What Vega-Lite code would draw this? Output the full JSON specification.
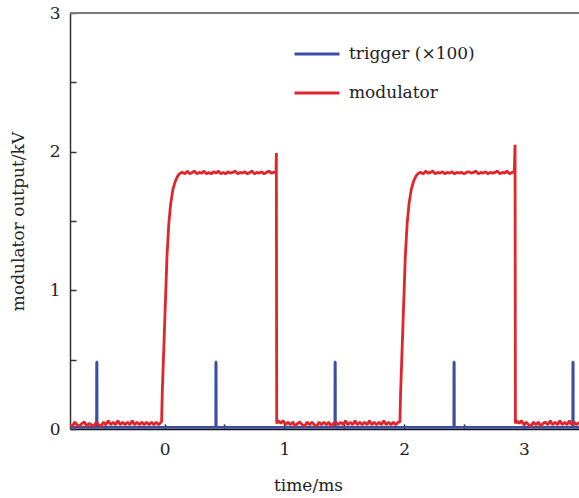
{
"$schema": "https://vega.github.io/schema/vega-lite/v6.json",
"width": 509, "height": 416,
"autosize": {"type": "none"},
"padding": {"left": 70, "top": 13, "right": 0, "bottom": 69},
"config": {"view": {"stroke": null}, "font": "DejaVu Serif"},
"datasets": {
"traces": [
{"series":"trigger (×100)","t":-0.79,"v":0.012},
{"series":"trigger (×100)","t":-0.568,"v":0.012},
{"series":"trigger (×100)","t":-0.567,"v":0.484},
{"series":"trigger (×100)","t":-0.565,"v":0.484},
{"series":"trigger (×100)","t":-0.564,"v":0.012},
{"series":"trigger (×100)","t":0.427,"v":0.012},
{"series":"trigger (×100)","t":0.428,"v":0.484},
{"series":"trigger (×100)","t":0.430,"v":0.484},
{"series":"trigger (×100)","t":0.431,"v":0.012},
{"series":"trigger (×100)","t":1.422,"v":0.012},
{"series":"trigger (×100)","t":1.423,"v":0.484},
{"series":"trigger (×100)","t":1.425,"v":0.484},
{"series":"trigger (×100)","t":1.426,"v":0.012},
{"series":"trigger (×100)","t":2.415,"v":0.012},
{"series":"trigger (×100)","t":2.416,"v":0.484},
{"series":"trigger (×100)","t":2.418,"v":0.484},
{"series":"trigger (×100)","t":2.419,"v":0.012},
{"series":"trigger (×100)","t":3.408,"v":0.012},
{"series":"trigger (×100)","t":3.409,"v":0.484},
{"series":"trigger (×100)","t":3.411,"v":0.484},
{"series":"trigger (×100)","t":3.412,"v":0.012},
{"series":"trigger (×100)","t":3.46,"v":0.012},
{"series":"modulator","t":-0.79,"v":0.03},
{"series":"modulator","t":-0.77,"v":0.02},
{"series":"modulator","t":-0.75,"v":0.05},
{"series":"modulator","t":-0.73,"v":0.03},
{"series":"modulator","t":-0.71,"v":0.02},
{"series":"modulator","t":-0.69,"v":0.04},
{"series":"modulator","t":-0.67,"v":0.05},
{"series":"modulator","t":-0.65,"v":0.02},
{"series":"modulator","t":-0.63,"v":0.04},
{"series":"modulator","t":-0.61,"v":0.03},
{"series":"modulator","t":-0.59,"v":0.02},
{"series":"modulator","t":-0.57,"v":0.05},
{"series":"modulator","t":-0.55,"v":0.03},
{"series":"modulator","t":-0.53,"v":0.02},
{"series":"modulator","t":-0.51,"v":0.05},
{"series":"modulator","t":-0.49,"v":0.03},
{"series":"modulator","t":-0.47,"v":0.06},
{"series":"modulator","t":-0.45,"v":0.03},
{"series":"modulator","t":-0.43,"v":0.05},
{"series":"modulator","t":-0.41,"v":0.03},
{"series":"modulator","t":-0.39,"v":0.06},
{"series":"modulator","t":-0.37,"v":0.03},
{"series":"modulator","t":-0.35,"v":0.05},
{"series":"modulator","t":-0.33,"v":0.03},
{"series":"modulator","t":-0.31,"v":0.05},
{"series":"modulator","t":-0.29,"v":0.03},
{"series":"modulator","t":-0.27,"v":0.06},
{"series":"modulator","t":-0.25,"v":0.03},
{"series":"modulator","t":-0.23,"v":0.05},
{"series":"modulator","t":-0.21,"v":0.03},
{"series":"modulator","t":-0.19,"v":0.05},
{"series":"modulator","t":-0.17,"v":0.03},
{"series":"modulator","t":-0.15,"v":0.05},
{"series":"modulator","t":-0.13,"v":0.03},
{"series":"modulator","t":-0.11,"v":0.05},
{"series":"modulator","t":-0.09,"v":0.03},
{"series":"modulator","t":-0.07,"v":0.05},
{"series":"modulator","t":-0.05,"v":0.03},
{"series":"modulator","t":-0.03,"v":0.05},
{"series":"modulator","t":-0.025,"v":0.05},
{"series":"modulator","t":-0.02,"v":0.25},
{"series":"modulator","t":-0.01,"v":0.5},
{"series":"modulator","t":0.0,"v":0.75},
{"series":"modulator","t":0.01,"v":1.0},
{"series":"modulator","t":0.02,"v":1.25},
{"series":"modulator","t":0.035,"v":1.48},
{"series":"modulator","t":0.05,"v":1.62},
{"series":"modulator","t":0.07,"v":1.73},
{"series":"modulator","t":0.09,"v":1.79},
{"series":"modulator","t":0.11,"v":1.825},
{"series":"modulator","t":0.13,"v":1.845},
{"series":"modulator","t":0.15,"v":1.85},
{"series":"modulator","t":0.17,"v":1.84},
{"series":"modulator","t":0.19,"v":1.86},
{"series":"modulator","t":0.21,"v":1.84},
{"series":"modulator","t":0.23,"v":1.85},
{"series":"modulator","t":0.25,"v":1.86},
{"series":"modulator","t":0.27,"v":1.84},
{"series":"modulator","t":0.29,"v":1.85},
{"series":"modulator","t":0.31,"v":1.845},
{"series":"modulator","t":0.33,"v":1.86},
{"series":"modulator","t":0.35,"v":1.84},
{"series":"modulator","t":0.37,"v":1.85},
{"series":"modulator","t":0.39,"v":1.84},
{"series":"modulator","t":0.41,"v":1.855},
{"series":"modulator","t":0.43,"v":1.845},
{"series":"modulator","t":0.45,"v":1.86},
{"series":"modulator","t":0.47,"v":1.84},
{"series":"modulator","t":0.49,"v":1.85},
{"series":"modulator","t":0.51,"v":1.84},
{"series":"modulator","t":0.53,"v":1.855},
{"series":"modulator","t":0.55,"v":1.845},
{"series":"modulator","t":0.57,"v":1.85},
{"series":"modulator","t":0.59,"v":1.86},
{"series":"modulator","t":0.61,"v":1.84},
{"series":"modulator","t":0.63,"v":1.85},
{"series":"modulator","t":0.65,"v":1.845},
{"series":"modulator","t":0.67,"v":1.855},
{"series":"modulator","t":0.69,"v":1.84},
{"series":"modulator","t":0.71,"v":1.85},
{"series":"modulator","t":0.73,"v":1.86},
{"series":"modulator","t":0.75,"v":1.84},
{"series":"modulator","t":0.77,"v":1.85},
{"series":"modulator","t":0.79,"v":1.845},
{"series":"modulator","t":0.81,"v":1.855},
{"series":"modulator","t":0.83,"v":1.84},
{"series":"modulator","t":0.85,"v":1.85},
{"series":"modulator","t":0.87,"v":1.86},
{"series":"modulator","t":0.89,"v":1.845},
{"series":"modulator","t":0.91,"v":1.85},
{"series":"modulator","t":0.93,"v":1.85},
{"series":"modulator","t":0.933,"v":1.99},
{"series":"modulator","t":0.936,"v":0.04},
{"series":"modulator","t":0.95,"v":0.06},
{"series":"modulator","t":0.97,"v":0.04},
{"series":"modulator","t":0.99,"v":0.06},
{"series":"modulator","t":1.01,"v":0.03},
{"series":"modulator","t":1.03,"v":0.05},
{"series":"modulator","t":1.05,"v":0.03},
{"series":"modulator","t":1.07,"v":0.05},
{"series":"modulator","t":1.09,"v":0.02},
{"series":"modulator","t":1.11,"v":0.04},
{"series":"modulator","t":1.13,"v":0.05},
{"series":"modulator","t":1.15,"v":0.03},
{"series":"modulator","t":1.17,"v":0.02},
{"series":"modulator","t":1.19,"v":0.05},
{"series":"modulator","t":1.21,"v":0.03},
{"series":"modulator","t":1.23,"v":0.05},
{"series":"modulator","t":1.25,"v":0.03},
{"series":"modulator","t":1.27,"v":0.02},
{"series":"modulator","t":1.29,"v":0.05},
{"series":"modulator","t":1.31,"v":0.03},
{"series":"modulator","t":1.33,"v":0.05},
{"series":"modulator","t":1.35,"v":0.03},
{"series":"modulator","t":1.37,"v":0.05},
{"series":"modulator","t":1.39,"v":0.02},
{"series":"modulator","t":1.41,"v":0.04},
{"series":"modulator","t":1.43,"v":0.05},
{"series":"modulator","t":1.45,"v":0.03},
{"series":"modulator","t":1.47,"v":0.05},
{"series":"modulator","t":1.49,"v":0.03},
{"series":"modulator","t":1.51,"v":0.06},
{"series":"modulator","t":1.53,"v":0.03},
{"series":"modulator","t":1.55,"v":0.05},
{"series":"modulator","t":1.57,"v":0.03},
{"series":"modulator","t":1.59,"v":0.06},
{"series":"modulator","t":1.61,"v":0.03},
{"series":"modulator","t":1.63,"v":0.05},
{"series":"modulator","t":1.65,"v":0.03},
{"series":"modulator","t":1.67,"v":0.05},
{"series":"modulator","t":1.69,"v":0.03},
{"series":"modulator","t":1.71,"v":0.06},
{"series":"modulator","t":1.73,"v":0.03},
{"series":"modulator","t":1.75,"v":0.05},
{"series":"modulator","t":1.77,"v":0.03},
{"series":"modulator","t":1.79,"v":0.05},
{"series":"modulator","t":1.81,"v":0.03},
{"series":"modulator","t":1.83,"v":0.06},
{"series":"modulator","t":1.85,"v":0.03},
{"series":"modulator","t":1.87,"v":0.05},
{"series":"modulator","t":1.89,"v":0.03},
{"series":"modulator","t":1.91,"v":0.05},
{"series":"modulator","t":1.93,"v":0.03},
{"series":"modulator","t":1.95,"v":0.05},
{"series":"modulator","t":1.965,"v":0.05},
{"series":"modulator","t":1.97,"v":0.25},
{"series":"modulator","t":1.98,"v":0.5},
{"series":"modulator","t":1.99,"v":0.75},
{"series":"modulator","t":2.0,"v":1.0},
{"series":"modulator","t":2.01,"v":1.25},
{"series":"modulator","t":2.025,"v":1.48},
{"series":"modulator","t":2.04,"v":1.62},
{"series":"modulator","t":2.06,"v":1.73},
{"series":"modulator","t":2.08,"v":1.79},
{"series":"modulator","t":2.10,"v":1.825},
{"series":"modulator","t":2.12,"v":1.845},
{"series":"modulator","t":2.14,"v":1.85},
{"series":"modulator","t":2.16,"v":1.84},
{"series":"modulator","t":2.18,"v":1.86},
{"series":"modulator","t":2.20,"v":1.845},
{"series":"modulator","t":2.22,"v":1.85},
{"series":"modulator","t":2.24,"v":1.86},
{"series":"modulator","t":2.26,"v":1.84},
{"series":"modulator","t":2.28,"v":1.85},
{"series":"modulator","t":2.30,"v":1.845},
{"series":"modulator","t":2.32,"v":1.855},
{"series":"modulator","t":2.34,"v":1.84},
{"series":"modulator","t":2.36,"v":1.85},
{"series":"modulator","t":2.38,"v":1.845},
{"series":"modulator","t":2.40,"v":1.855},
{"series":"modulator","t":2.42,"v":1.84},
{"series":"modulator","t":2.44,"v":1.85},
{"series":"modulator","t":2.46,"v":1.845},
{"series":"modulator","t":2.48,"v":1.85},
{"series":"modulator","t":2.50,"v":1.84},
{"series":"modulator","t":2.52,"v":1.85},
{"series":"modulator","t":2.54,"v":1.855},
{"series":"modulator","t":2.56,"v":1.845},
{"series":"modulator","t":2.58,"v":1.85},
{"series":"modulator","t":2.60,"v":1.86},
{"series":"modulator","t":2.62,"v":1.84},
{"series":"modulator","t":2.64,"v":1.85},
{"series":"modulator","t":2.66,"v":1.845},
{"series":"modulator","t":2.68,"v":1.855},
{"series":"modulator","t":2.70,"v":1.84},
{"series":"modulator","t":2.72,"v":1.85},
{"series":"modulator","t":2.74,"v":1.845},
{"series":"modulator","t":2.76,"v":1.85},
{"series":"modulator","t":2.78,"v":1.86},
{"series":"modulator","t":2.80,"v":1.84},
{"series":"modulator","t":2.82,"v":1.85},
{"series":"modulator","t":2.84,"v":1.845},
{"series":"modulator","t":2.86,"v":1.86},
{"series":"modulator","t":2.88,"v":1.84},
{"series":"modulator","t":2.90,"v":1.85},
{"series":"modulator","t":2.92,"v":1.855},
{"series":"modulator","t":2.926,"v":2.05},
{"series":"modulator","t":2.929,"v":0.04},
{"series":"modulator","t":2.94,"v":0.06},
{"series":"modulator","t":2.96,"v":0.04},
{"series":"modulator","t":2.98,"v":0.06},
{"series":"modulator","t":3.00,"v":0.03},
{"series":"modulator","t":3.02,"v":0.05},
{"series":"modulator","t":3.04,"v":0.03},
{"series":"modulator","t":3.06,"v":0.02},
{"series":"modulator","t":3.08,"v":0.05},
{"series":"modulator","t":3.10,"v":0.03},
{"series":"modulator","t":3.12,"v":0.05},
{"series":"modulator","t":3.14,"v":0.02},
{"series":"modulator","t":3.16,"v":0.04},
{"series":"modulator","t":3.18,"v":0.05},
{"series":"modulator","t":3.20,"v":0.03},
{"series":"modulator","t":3.22,"v":0.06},
{"series":"modulator","t":3.24,"v":0.03},
{"series":"modulator","t":3.26,"v":0.05},
{"series":"modulator","t":3.28,"v":0.03},
{"series":"modulator","t":3.30,"v":0.06},
{"series":"modulator","t":3.32,"v":0.03},
{"series":"modulator","t":3.34,"v":0.05},
{"series":"modulator","t":3.36,"v":0.03},
{"series":"modulator","t":3.38,"v":0.06},
{"series":"modulator","t":3.40,"v":0.03},
{"series":"modulator","t":3.42,"v":0.05},
{"series":"modulator","t":3.44,"v":0.03},
{"series":"modulator","t":3.46,"v":0.05}
],
"frame": [{"edge": "top"}]
},
"layer": [
{
"data": {"name": "frame"},
"mark": {"type": "rule", "color": "#7a7a7a", "strokeWidth": 2},
"encoding": {"y": {"datum": 3, "type": "quantitative"}}
},
{
"data": {"name": "traces"},
"mark": {"type": "line", "strokeWidth": 2.8, "clip": true, "strokeJoin": "bevel"},
"encoding": {
"x": {"field": "t", "type": "quantitative",
"scale": {"domain": [-0.79, 3.46], "nice": false, "zero": false},
"axis": {"values": [-0.5, 0, 0.5, 1, 1.5, 2, 2.5, 3],
"labelExpr": "datum.value % 1 === 0 ? format(datum.value, 'd') : ''",
"title": "time/ms", "grid": false,
"tickSize": -5, "tickColor": "#111", "tickWidth": 1.5,
"domainColor": "#111", "domainWidth": 1.5,
"labelFont": "DejaVu Serif", "labelFontSize": 17, "labelColor": "#222", "labelPadding": 17,
"titleFont": "DejaVu Serif", "titleFontSize": 17, "titleFontWeight": "normal", "titleColor": "#222",
"titleX": 238, "titleY": 56, "titleBaseline": "middle"}},
"y": {"field": "v", "type": "quantitative",
"scale": {"domain": [0, 3], "nice": false},
"axis": {"values": [0, 0.5, 1, 1.5, 2, 2.5, 3],
"labelExpr": "datum.value % 1 === 0 ? format(datum.value, 'd') : ''",
"title": "modulator output/kV", "grid": false,
"tickSize": -6, "tickColor": "#333", "tickWidth": 1.5,
"domainColor": "#333", "domainWidth": 1.5,
"labelFont": "DejaVu Serif", "labelFontSize": 17, "labelColor": "#222", "labelPadding": 16,
"titleFont": "DejaVu Serif", "titleFontSize": 17, "titleFontWeight": "normal", "titleColor": "#222",
"titleX": -52, "titleBaseline": "middle"}},
"color": {"field": "series", "type": "nominal",
"scale": {"domain": ["trigger (×100)", "modulator"], "range": ["#3c4ea2", "#e0262a"]},
"legend": {"orient": "none", "legendX": 223, "legendY": 17, "title": null,
"symbolType": "stroke", "symbolSize": 2025, "symbolStrokeWidth": 3,
"labelFont": "DejaVu Serif", "labelFontSize": 17, "labelColor": "#222", "labelOffset": 8,
"rowPadding": 7, "padding": 0}}
}
}
]
}
